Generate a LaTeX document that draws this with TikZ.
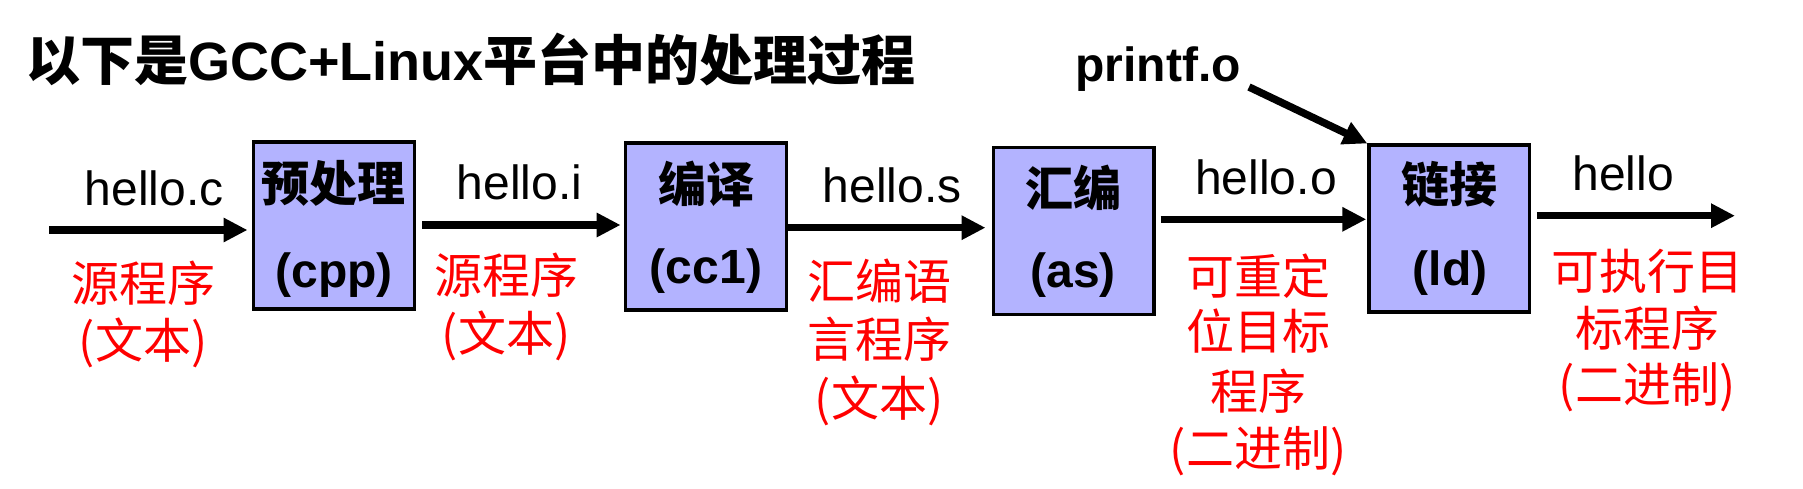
\documentclass[tikz,border=0pt]{standalone}
\usepackage{fontspec}
\setmainfont{Liberation Sans}
\newfontfamily\cjk{Noto Sans CJK SC}
\usetikzlibrary{arrows.meta}
\definecolor{boxblue}{RGB}{179,179,255}
\definecolor{lblred}{RGB}{255,0,0}
\tikzset{
  box/.style={draw=black, line width=3.4pt, fill=boxblue, inner sep=0pt,
    minimum width=160.6pt, minimum height=166.6pt},
  arr/.style={line width=7.5pt, -{Triangle[length=24pt,width=23pt]}},
  txt/.style={inner sep=0pt, anchor=base, font=\fontsize{48pt}{57pt}\selectfont},
  boxtxt/.style={txt, font=\fontsize{48pt}{57pt}\selectfont\bfseries},
  redlbl/.style={txt, text=lblred, font=\fontsize{48pt}{57pt}\selectfont\cjk},
}
\begin{document}
\begin{tikzpicture}[x=1pt,y=-1pt]
\useasboundingbox (0,0) rectangle (1803,489);
% title
\node[inner sep=0pt, anchor=base west, font=\fontsize{54pt}{60pt}\selectfont\bfseries] (title) at (26,81)
  {{\cjk 以下是}GCC+Linux{\cjk 平台中的处理过程}};
% boxes
\node[box] (b1) at (334,225.5) {};
\node[box] (b2) at (706,226.5) {};
\node[box] (b3) at (1073.5,230.9) {};
\node[box] (b4) at (1449.3,228.5) {};
% box texts
\node[boxtxt] (b1t) at (333,201) {\cjk\bfseries 预处理};
\node[boxtxt] (b1p) at (334,287) {(cpp)};
\node[boxtxt] (b2t) at (706,203) {\cjk\bfseries 编译};
\node[boxtxt] (b2p) at (706,283) {(cc1)};
\node[boxtxt] (b3t) at (1073.5,206) {\cjk\bfseries 汇编};
\node[boxtxt] (b3p) at (1073,287) {(as)};
\node[boxtxt] (b4t) at (1449,203) {\cjk\bfseries 链接};
\node[boxtxt] (b4p) at (1450,285) {(ld)};
% file names
\node[txt] (fc) at (154,205) {hello.c};
\node[txt] (fi) at (519.5,200) {hello.i};
\node[txt] (fs) at (892,202.7) {hello.s};
\node[txt] (fo) at (1266,194) {hello.o};
\node[txt] (fh) at (1623,190.7) {hello};
\node[boxtxt] (pf) at (1158,81.7) {printf.o};
% arrows
\coordinate (in) at (49,230);
\coordinate (out) at (1735,215.7);
\coordinate (pfs) at (1249,87);
\draw[arr, shorten >=4.5pt] (in) -- (in -| b1.west);
\draw[arr, shorten <=6pt, shorten >=3.4pt] (b1.east |- 0,225) -- (b2.west |- 0,225);
\draw[arr, shorten >=6pt] (b2.east |- 0,227.7) -- (b3.west |- 0,227.7);
\draw[arr, shorten <=5pt, shorten >=1pt] (b3.east |- 0,219.3) -- (b4.west |- 0,219.3);
\draw[arr, shorten <=5.5pt] (b4.east |- out) -- (out);
\draw[arr] (pfs) -- (b4.north west);
% red labels
\node[redlbl] (l1a) at (143,301) {源程序};
\node[redlbl] (l1b) at (143,358) {(文本)};
\node[redlbl] (l2a) at (506,293) {源程序};
\node[redlbl] (l2b) at (506,351) {(文本)};
\node[redlbl] (l3a) at (879,299) {汇编语};
\node[redlbl] (l3b) at (879,357) {言程序};
\node[redlbl] (l3c) at (879,416) {(文本)};
\node[redlbl] (l4a) at (1258,294) {可重定};
\node[redlbl] (l4b) at (1258,349) {位目标};
\node[redlbl] (l4c) at (1258,409) {程序};
\node[redlbl] (l4d) at (1258,466) {(二进制)};
\node[redlbl] (l5a) at (1647,289) {可执行目};
\node[redlbl] (l5b) at (1647,346) {标程序};
\node[redlbl] (l5c) at (1647,402) {(二进制)};
\end{tikzpicture}
\end{document}
